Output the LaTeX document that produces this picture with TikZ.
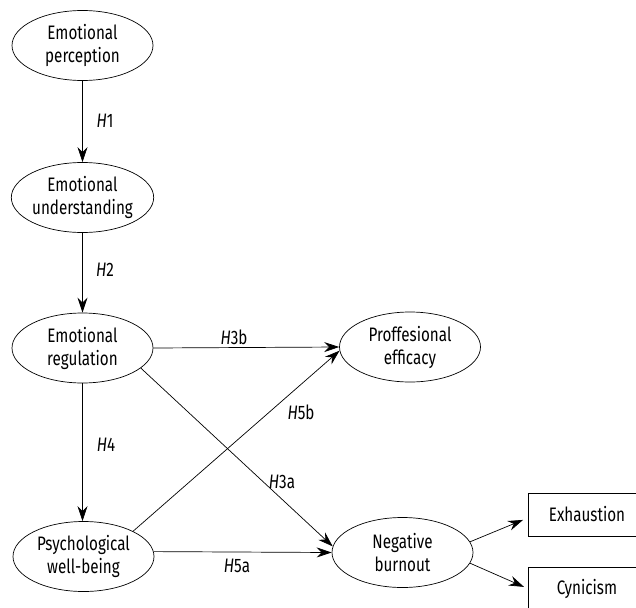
\documentclass[tikz,border=0pt]{standalone}
\usepackage{fontspec}
\setmainfont{Fira Sans}[FakeStretch=0.78]
\usetikzlibrary{shapes.geometric,arrows.meta,calc}
\begin{document}
\begin{tikzpicture}[x=1pt,y=-1pt,
  font=\fontsize{19.5}{23}\selectfont,
  latent/.style={draw,ellipse,line width=0.7pt,minimum width=141pt,minimum height=70pt,inner sep=0pt,align=center},
  indicator/.style={draw,rectangle,line width=0.7pt,minimum width=118pt,minimum height=43pt,inner sep=0pt},
  arr/.style={line width=0.7pt,-{Stealth[length=15pt,width=10pt,inset=5pt]}},
  hlabel/.style={inner sep=0pt}]
\useasboundingbox (0,0) rectangle (636,607);
\node[latent] (perc) at (82.5,45.5) {Emotional\\perception};
\node[latent] (und) at (82.5,197.5) {Emotional\\understanding};
\node[latent] (reg) at (82.5,348) {Emotional\\regulation};
\node[latent] (well) at (83.5,556.5) {Psychological\\well-being};
\node[latent] (eff) at (410,347) {Proffesional\\efficacy};
\node[latent] (burn) at (402.5,552.5) {Negative\\burnout};
\node[indicator] (exh) at (587,514.5) {Exhaustion};
\node[indicator] (cyn) at (587,588.5) {Cynicism};

\draw[arr] (perc) -- (und);
\draw[arr] (und) -- (reg);
\draw[arr] (reg) -- (well.north -| reg.south);
\draw[arr] (reg.east) -- (eff.west);
\draw[arr] (reg.-19) -- (burn.175);
\draw[arr] (well.27) -- (eff.183);
\draw[arr] (well.4) -- (burn.west);
\draw[arr,shorten >=5pt] (burn.9) -- ($(exh.west)+(0,3.5)$);
\draw[arr,shorten >=4pt] (burn.-9) -- (cyn.west);

\node[hlabel] (h1) at (105,121) {\textit{H}1};
\node[hlabel] (h2) at (105,270) {\textit{H}2};
\node[hlabel] (h3b) at (234,337) {\textit{H}3b};
\node[hlabel] (h4) at (106,445) {\textit{H}4};
\node[hlabel] (h5b) at (301,412) {\textit{H}5b};
\node[hlabel] (h3a) at (282,482) {\textit{H}3a};
\node[hlabel] (h5a) at (237,566) {\textit{H}5a};
\end{tikzpicture}
\end{document}
